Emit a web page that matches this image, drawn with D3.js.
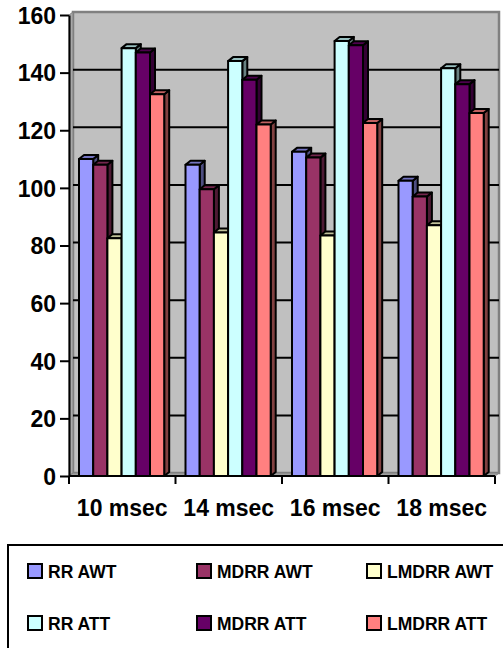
<!DOCTYPE html>
<html>
<head>
<meta charset="utf-8">
<script src="https://cdn.jsdelivr.net/npm/d3@7"></script>
<style>
  html, body { margin: 0; padding: 0; background: #ffffff; }
  svg { display: block; }
  text { font-family: "Liberation Sans", Arial, sans-serif; font-weight: bold; fill: #000; }
</style>
</head>
<body>
<svg id="chart" width="503" height="648"></svg>
<script>
// ---- data ----
const categories = ["10 msec", "14 msec", "16 msec", "18 msec"];
const seriesNames = ["RR AWT", "MDRR AWT", "LMDRR AWT", "RR ATT", "MDRR ATT", "LMDRR ATT"];
const seriesColors = ["#9999FF", "#993366", "#FFFFCC", "#CCFFFF", "#660066", "#FF8080"];
const rrAWT    = [110, 108, 112.5, 102.5];
const mdrrAWT  = [108, 99.5, 110.5, 97];
const lmdrrAWT = [82.5, 84.5, 83.5, 87];
const rrATT    = [148.5, 144, 151, 141.5];
const mdrrATT  = [147, 137.5, 149.5, 136];
const lmdrrATT = [132.5, 122, 122.5, 126];
const yTicks = [0, 20, 40, 60, 80, 100, 120, 140, 160];

const seriesValues = [rrAWT, mdrrAWT, lmdrrAWT, rrATT, mdrrATT, lmdrrATT];

// ---- layout ----
const svg = d3.select("#chart");
const x0 = d3.scaleBand().domain(categories).range([69, 495]).padding(0);
const x1 = d3.scaleBand().domain(seriesNames).range([10, 95.2]).padding(0);
const y = d3.scaleLinear().domain([0, 160]).range([476, 15]);

const wdx = 4, wdy = -3;   // wall depth offset
const bdx = 5, bdy = -4;   // bar depth offset

const plotL = x0.range()[0], plotR = x0.range()[1];
const y0 = y(0), yTop = y(160);

// back wall
svg.append("rect")
  .attr("x", plotL + wdx).attr("y", yTop + wdy)
  .attr("width", plotR - plotL).attr("height", y0 - yTop)
  .attr("fill", "#C0C0C0").attr("stroke", "#808080").attr("stroke-width", 2.5);

// left side wall
svg.append("polygon")
  .attr("points", [[plotL, yTop], [plotL + wdx, yTop + wdy], [plotL + wdx, y0 + wdy], [plotL, y0]].map(p => p.join(",")).join(" "))
  .attr("fill", "#A8A8A8").attr("stroke", "#808080").attr("stroke-width", 1);

// floor
svg.append("polygon")
  .attr("points", [[plotL, y0], [plotL + wdx, y0 + wdy], [plotR + wdx, y0 + wdy], [plotR, y0]].map(p => p.join(",")).join(" "))
  .attr("fill", "#A0A0A0").attr("stroke", "#808080").attr("stroke-width", 1);

// gridlines on back wall
svg.append("g").selectAll("line")
  .data(yTicks.filter(t => t > 0 && t < 160))
  .join("line")
  .attr("x1", plotL + wdx).attr("x2", plotR + wdx)
  .attr("y1", d => y(d) + wdy).attr("y2", d => y(d) + wdy)
  .attr("stroke", "#000").attr("stroke-width", 2);

// bars
const color = d3.scaleOrdinal().domain(seriesNames).range(seriesColors);
const barsG = svg.append("g");
categories.forEach((cat, ci) => {
  seriesNames.forEach((s, si) => {
    const v = seriesValues[si][ci];
    const x = x0(cat) + x1(s);
    const w = x1.bandwidth();
    const yt = y(v);
    const base = d3.color(color(s));
    const g = barsG.append("g")
      .attr("stroke", "#000").attr("stroke-width", 2).attr("stroke-linejoin", "round");
    // side face
    g.append("polygon")
      .attr("points", [[x + w, yt], [x + w + bdx, yt + bdy], [x + w + bdx, y0 + bdy], [x + w, y0]].map(p => p.join(",")).join(" "))
      .attr("fill", base.darker(1.9));
    // top face
    g.append("polygon")
      .attr("points", [[x, yt], [x + bdx, yt + bdy], [x + w + bdx, yt + bdy], [x + w, yt]].map(p => p.join(",")).join(" "))
      .attr("fill", base.darker(0.8));
    // front face
    g.append("rect")
      .attr("x", x).attr("y", yt).attr("width", w).attr("height", y0 - yt)
      .attr("fill", base);
  });
});

// y axis
const yAxis = d3.axisLeft(y).tickValues(yTicks).tickSize(9).tickSizeOuter(0).tickPadding(4);
const yg = svg.append("g").attr("transform", `translate(${plotL},0)`).call(yAxis);
yg.select(".domain").attr("stroke", "#000").attr("stroke-width", 2);
yg.selectAll(".tick line").attr("stroke", "#000").attr("stroke-width", 2);
yg.selectAll(".tick text")
  .attr("font-size", 23).attr("font-family", "'Liberation Sans', Arial, sans-serif")
  .attr("font-weight", "bold").attr("fill", "#000").attr("dy", "0.36em").attr("x", -13);

// x axis line
svg.append("line")
  .attr("x1", plotL).attr("x2", plotR).attr("y1", y0).attr("y2", y0)
  .attr("stroke", "#000").attr("stroke-width", 2);
// x ticks at category boundaries
svg.append("g").selectAll("line")
  .data(categories.map(c => x0(c)).concat([plotR]))
  .join("line")
  .attr("x1", d => d).attr("x2", d => d).attr("y1", y0).attr("y2", y0 + 8)
  .attr("stroke", "#000").attr("stroke-width", 2);
// category labels
svg.append("g").selectAll("text")
  .data(categories)
  .join("text")
  .attr("x", d => x0(d) + x0.bandwidth() / 2)
  .attr("y", 516)
  .attr("text-anchor", "middle")
  .attr("font-size", 23)
  .text(d => d);

// legend
svg.append("rect")
  .attr("x", 8).attr("y", 545).attr("width", 510).attr("height", 120)
  .attr("fill", "#fff").attr("stroke", "#000").attr("stroke-width", 2);
const legCols = [28, 197, 367];
const legRows = [571, 623];
const legend = svg.append("g").selectAll("g")
  .data(seriesNames)
  .join("g")
  .attr("transform", (d, i) => `translate(${legCols[i % 3]},${legRows[Math.floor(i / 3)]})`);
legend.append("rect")
  .attr("x", 0).attr("y", -7).attr("width", 14).attr("height", 14)
  .attr("fill", d => color(d)).attr("stroke", "#000").attr("stroke-width", 2);
legend.append("text")
  .attr("x", 20).attr("y", 6.5)
  .attr("font-size", 17.5)
  .text(d => d);
</script>
</body>
</html>
